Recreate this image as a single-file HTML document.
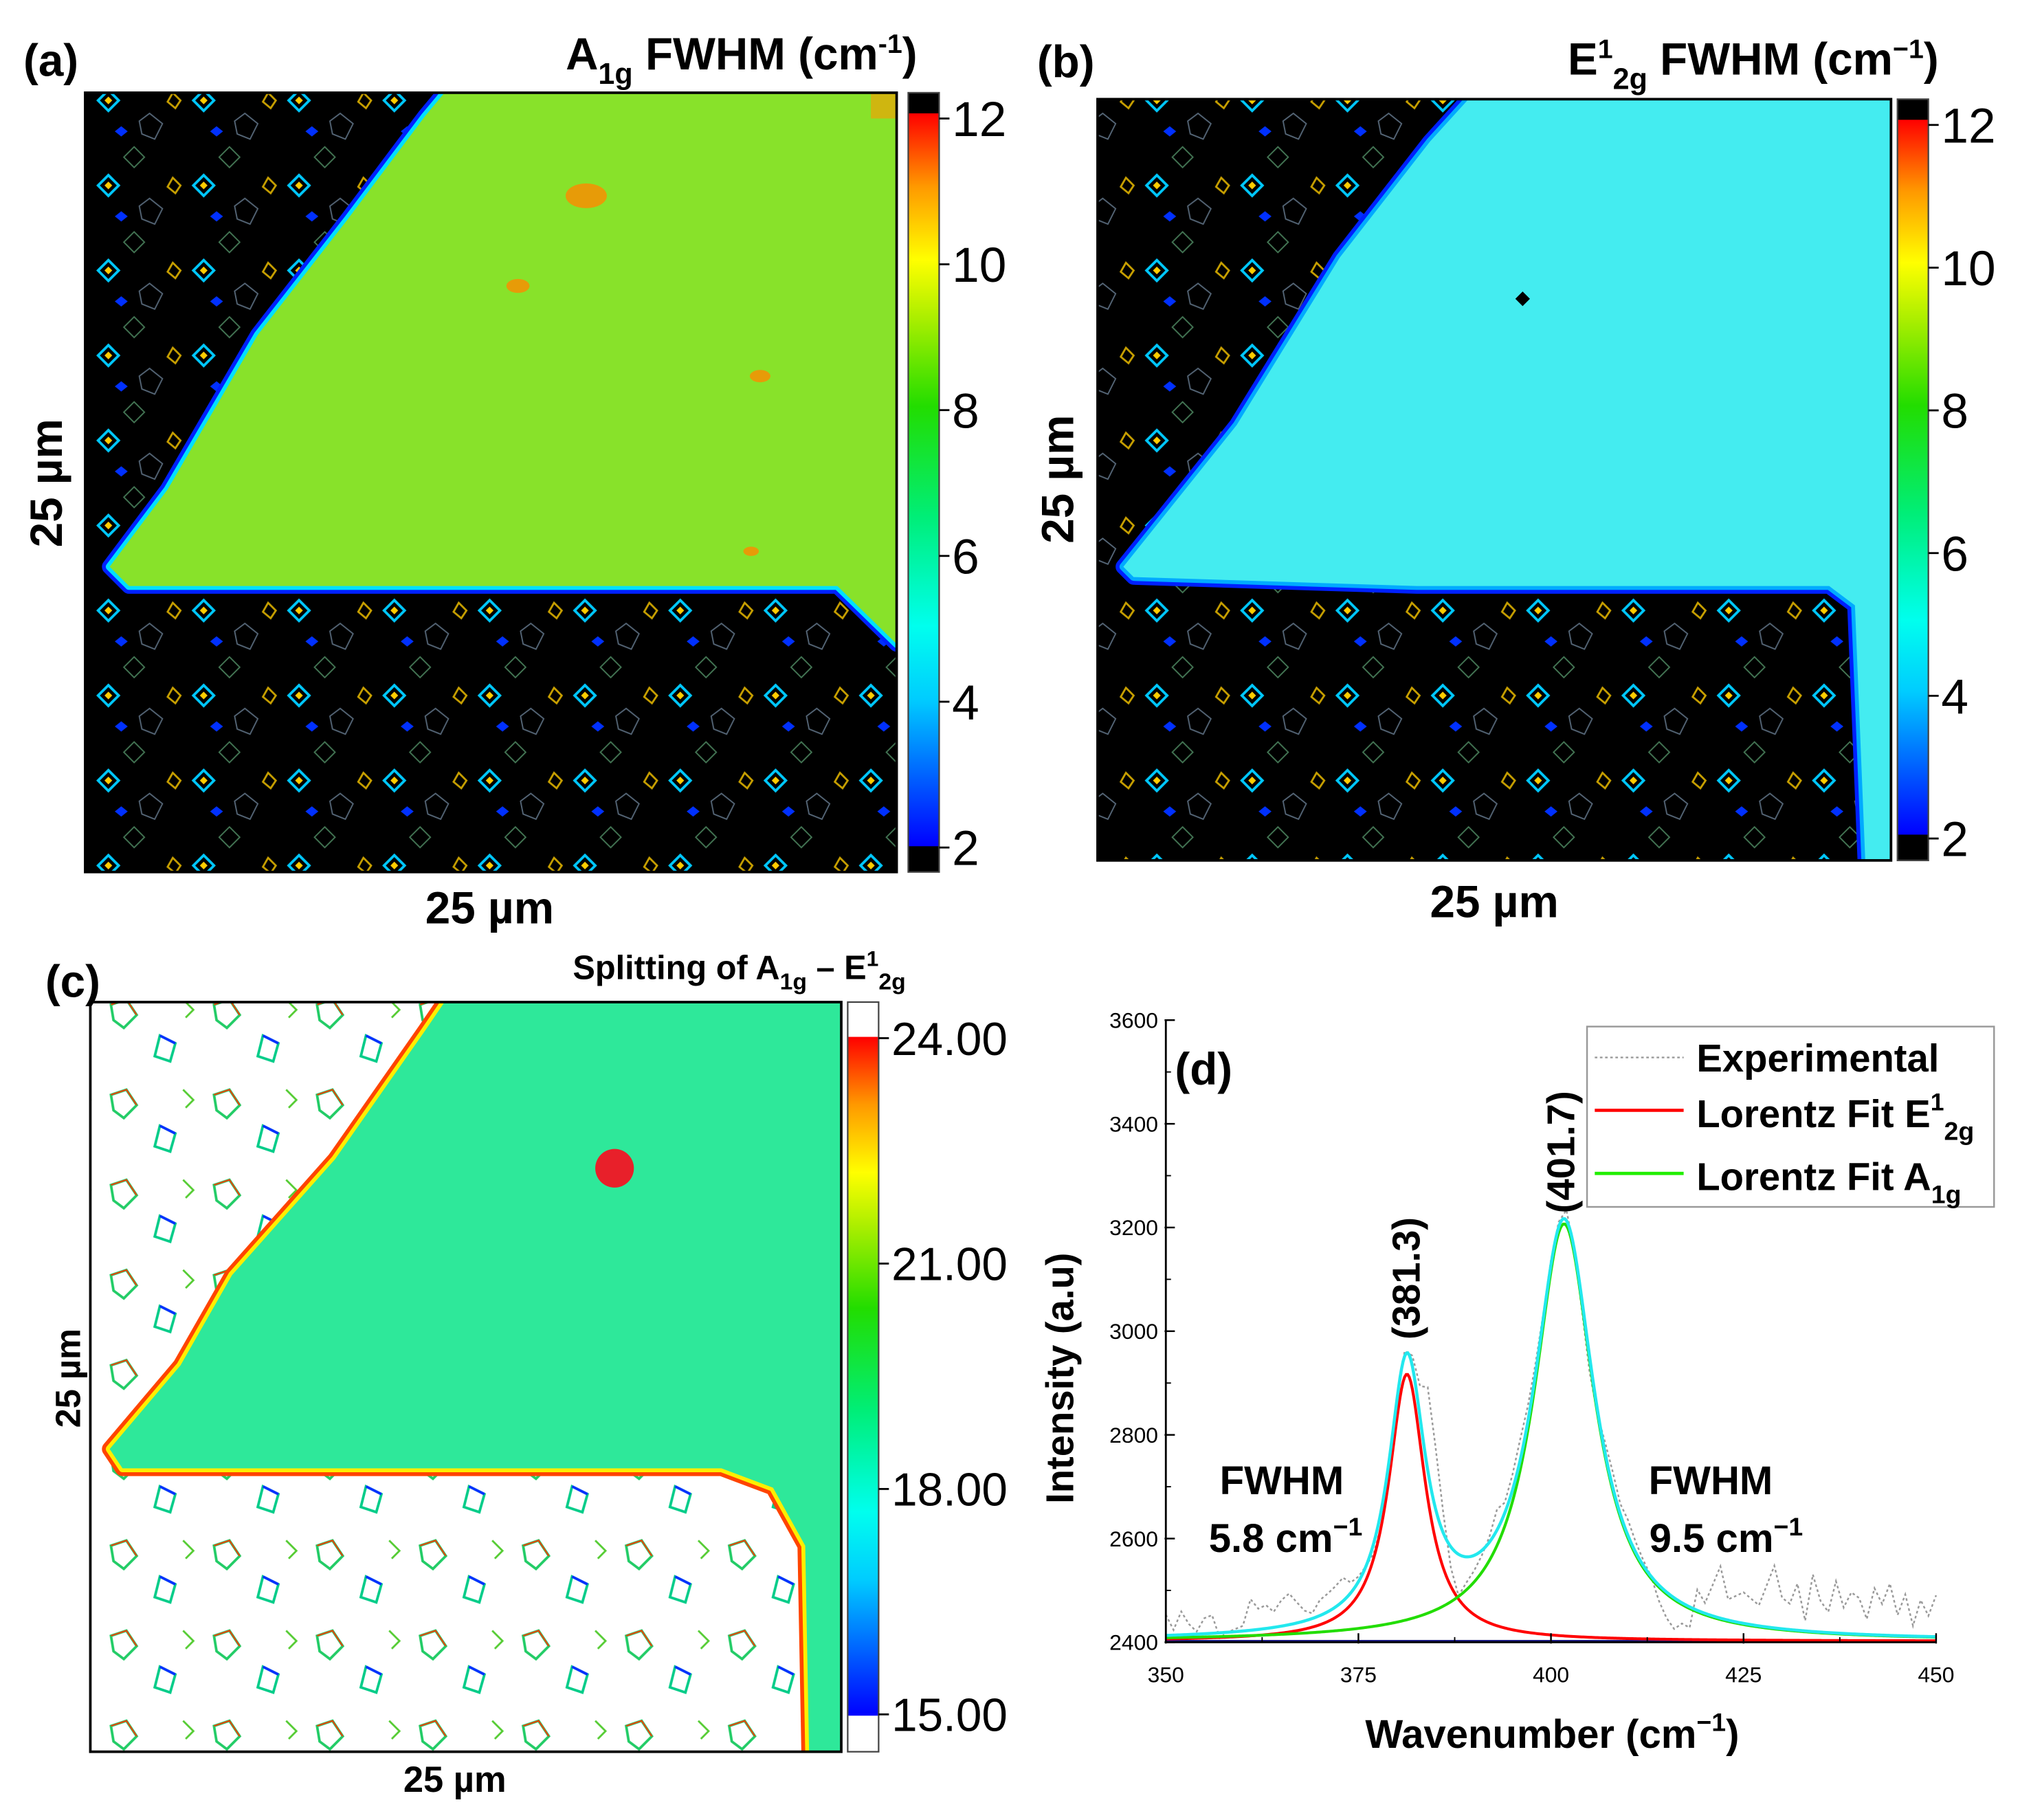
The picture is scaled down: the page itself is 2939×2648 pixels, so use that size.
<!DOCTYPE html>
<html><head><meta charset="utf-8"><style>
html,body{margin:0;padding:0;background:#fff;}
svg{display:block;font-family:"Liberation Sans",Arial,sans-serif;}
</style></head><body>
<svg id="fig" width="2939" height="2648" viewBox="0 0 1568 1413" xmlns="http://www.w3.org/2000/svg">
<defs>
<linearGradient id="jet" x1="0" y1="1" x2="0" y2="0">
<stop offset="0" stop-color="#0000ff"/><stop offset="0.2" stop-color="#00ccff"/><stop offset="0.3" stop-color="#00ffee"/>
<stop offset="0.45" stop-color="#00ee77"/><stop offset="0.6" stop-color="#22dd00"/><stop offset="0.72" stop-color="#aaee00"/>
<stop offset="0.8" stop-color="#ffff00"/><stop offset="0.9" stop-color="#ff9900"/><stop offset="1" stop-color="#ff0000"/>
</linearGradient>
<pattern id="darkTex" width="74" height="66" patternUnits="userSpaceOnUse">
<rect width="74" height="66" fill="#000"/>
<path d="M10 4 L18 12 L10 20 L2 12Z" fill="none" stroke="#00c8ff" stroke-width="2"/>
<path d="M10 9 L13 12 L10 15 L7 12Z" fill="#ffcc00"/>
<path d="M42 22 L52 30 L46 42 L36 38 L34 28Z" fill="none" stroke="#567" stroke-width="1"/>
<path d="M30 48 L38 56 L30 64 L22 56Z" fill="none" stroke="#475" stroke-width="1"/>
<path d="M60 6 L66 12 L62 18 L56 13Z" fill="none" stroke="#c8a000" stroke-width="1.5"/>
<path d="M20 32 L25 36 L20 40 L15 36Z" fill="#0030ff"/>
</pattern>
<pattern id="lightTex" width="80" height="70" patternUnits="userSpaceOnUse">
<rect width="80" height="70" fill="#fff"/>
<path d="M6 10 L18 6 L26 18 L16 28 L8 22Z" fill="none" stroke="#22cc66" stroke-width="2"/>
<path d="M6 10 L18 6 L26 18" fill="none" stroke="#ff3300" stroke-width="1"/>
<path d="M44 34 L56 40 L52 54 L40 50Z" fill="none" stroke="#00cc88" stroke-width="2"/>
<path d="M44 34 L56 40" fill="none" stroke="#0030ff" stroke-width="2"/>
<path d="M62 6 L70 14 L64 20" fill="none" stroke="#55cc33" stroke-width="1.5"/>
</pattern>
</defs>
</svg>
<script>
// ---------- panel (d) data ----------
const xTicks = [350, 375, 400, 425, 450];
const yTicks = [2400, 2600, 2800, 3000, 3200, 3400, 3600];
const baseline = 2402;
const peakE = [381.3, 515, 5.8];   // center, amplitude, FWHM
const peakA = [401.7, 805, 9.5];
const residuals = [40,10,45,20,5,30,35,-10,0,5, 10,60,40,45,30,50,60,40,20,10,
 30,35,40,45,20,10,0,-20,-30,-20, -10,10,20,60,160,120,40,-40,-80,-50,
 -30,-10,10,40,20,30,40,30,20,10, 10,10,20,0,-20,-30,-10,20,30,20,
 30,20,10,0,-30,-50,-60,-40,-40,40, 20,60,100,40,50,60,50,40,80,120,
 60,50,90,20,110,60,40,100,50,80, 70,30,90,60,100,40,80,20,70,40,80];
// colorbar ticks
const cbTicksAB = [2, 4, 6, 8, 10, 12];
const cbTicksC = ["15.00", "18.00", "21.00", "24.00"];

const svg = document.getElementById('fig');
const NS = 'http://www.w3.org/2000/svg';
function mk(tag, attrs, parent, text) {
  const e = document.createElementNS(NS, tag);
  for (const k in attrs) e.setAttribute(k, attrs[k]);
  if (text !== undefined) e.textContent = text;
  (parent || svg).appendChild(e);
  return e;
}
function txt(x, y, s, size, weight, anchor, parent) {
  return mk('text', {x: x, y: y, 'font-size': size, 'font-weight': weight || 'normal', 'text-anchor': anchor || 'start', fill: '#000'}, parent, s);
}

function heatmap(name, x0, y0, x1, y1, bgFill, flakeFill, flake, edgeOuter, edgeInner) {
  const g = mk('g', {}, svg);
  
  
  const cid = name + '-clip';
  const cp = mk('clipPath', {id: cid}, g);
  mk('rect', {x: x0, y: y0, width: x1 - x0, height: y1 - y0}, cp);
  const inner = mk('g', {'clip-path': 'url(#' + cid + ')'}, g);
  mk('rect', {x: x0, y: y0, width: x1 - x0, height: y1 - y0, fill: bgFill}, inner);
  const pts = flake.map(p => p.join(',')).join(' ');
  mk('polygon', {points: pts, fill: 'none', stroke: edgeOuter, 'stroke-width': 12, 'stroke-linejoin': 'round'}, inner);
  mk('polygon', {points: pts, fill: 'none', stroke: edgeInner, 'stroke-width': 6, 'stroke-linejoin': 'round'}, inner);
  mk('polygon', {points: pts, fill: flakeFill}, inner);
  mk('rect', {x: x0, y: y0, width: x1 - x0, height: y1 - y0, fill: 'none', stroke: '#000', 'stroke-width': 2}, g);
  return inner;
}
function colorbar(name, x, y0, y1, endColor, capTop, capBot, ticks, tickY, size) {
  const g = mk('g', {}, svg);
  
  
  mk('rect', {x: x, y: y0, width: 24, height: y1 - y0, fill: endColor}, g);
  mk('rect', {x: x, y: y0 + capTop, width: 24, height: y1 - y0 - capTop - capBot, fill: 'url(#jet)'}, g);
  mk('rect', {x: x, y: y0, width: 24, height: y1 - y0, fill: 'none', stroke: '#444', 'stroke-width': 1.2}, g);
  ticks.forEach((t, i) => {
    const yy = tickY(i);
    mk('line', {x1: x + 24, x2: x + 32, y1: yy, y2: yy, stroke: '#000', 'stroke-width': 1.5}, g);
    txt(x + 34, yy + size * 0.36, String(t), size, 'normal', 'start', g);
  });
}

// (a)
const ia = heatmap('map-a1g-fwhm', 66, 72, 696, 677, 'url(#darkTex)', '#88e22a',
  [[345,72],[696,72],[696,500],[650,455],[300,455],[100,455],[85,440],[130,380],[200,260],[270,170],[330,90]], '#0020ff', '#00e0ff');
[[455,152,16],[402,222,9],[590,292,8],[583,428,6]].forEach(s => { mk('ellipse', {cx: s[0], cy: s[1], rx: s[2], ry: s[2]*0.6, fill: '#ff8a00', opacity: 0.8}, ia); });
mk('rect', {x: 676, y: 72, width: 20, height: 20, fill: '#ff9a00', opacity: 0.6}, ia);
colorbar('colorbar-a', 705, 72, 677, '#000', 16, 20, cbTicksAB, i => 658 - i * 113.2, 38);
txt(18, 59, '(a)', 35, 'bold');
const ta = txt(712, 54, '', 35, 'bold', 'end');

ta.innerHTML = 'A<tspan font-size="23" dy="11">1g</tspan><tspan dy="-11"> FWHM (cm</tspan><tspan font-size="21" dy="-13">-1</tspan><tspan dy="13">)</tspan>';
mk('text', {x: 0, y: 0, transform: 'translate(48,375) rotate(-90)', 'font-size': 35, 'font-weight': 'bold', 'text-anchor': 'middle'}, svg, '25 µm');
txt(380, 717, '25 µm', 35, 'bold', 'middle');

// (b)
const ib = heatmap('map-e2g-fwhm', 852, 77, 1468, 668, 'url(#darkTex)', '#44ecf0',
  [[1140,77],[1468,77],[1468,668],[1448,668],[1440,470],[1420,455],[1100,455],[880,448],[872,440],[960,330],[1040,200],[1110,110]], '#0020ff', '#00aaff');
mk('rect', {x: 1178, y: 228, width: 8, height: 8, fill: '#000', transform: 'rotate(45 1182 232)'}, ib);
colorbar('colorbar-b', 1473, 77, 668, '#000', 16, 20, cbTicksAB, i => 651 - i * 110.8, 38);
txt(805, 60, '(b)', 35, 'bold');
const tb = txt(1505, 58, '', 35, 'bold', 'end');

tb.innerHTML = 'E<tspan font-size="21" dy="-13">1</tspan><tspan font-size="23" dy="24">2g</tspan><tspan dy="-11"> FWHM (cm</tspan><tspan font-size="21" dy="-13">−1</tspan><tspan dy="13">)</tspan>';
mk('text', {x: 0, y: 0, transform: 'translate(833,372) rotate(-90)', 'font-size': 35, 'font-weight': 'bold', 'text-anchor': 'middle'}, svg, '25 µm');
txt(1160, 712, '25 µm', 35, 'bold', 'middle');

// (c)
const ic = heatmap('map-splitting', 70, 778, 653, 1360, 'url(#lightTex)', '#2ee89a',
  [[345,778],[653,778],[653,1360],[628,1360],[625,1200],[600,1155],[560,1140],[300,1140],[95,1140],[85,1125],[140,1060],[180,990],[260,900],[330,800]], '#ff4400', '#ffee00');
const dot = mk('circle', {cx: 477, cy: 907, r: 15, fill: '#e8202a'}, svg);


colorbar('colorbar-c', 658, 778, 1360, '#fff', 27, 28, cbTicksC, i => 1331 - i * 175, 36);
txt(35, 774, '(c)', 35, 'bold');
const tc = txt(703, 760, '', 26, 'bold', 'end');

tc.innerHTML = 'Splitting of A<tspan font-size="18" dy="8">1g</tspan><tspan dy="-8"> – E</tspan><tspan font-size="17" dy="-10">1</tspan><tspan font-size="18" dy="18">2g</tspan>';
mk('text', {x: 0, y: 0, transform: 'translate(62,1070) rotate(-90)', 'font-size': 27, 'font-weight': 'bold', 'text-anchor': 'middle'}, svg, '25 µm');
txt(353, 1391, '25 µm', 28, 'bold', 'middle');

// (d) spectrum
const AX0 = 905, AX1 = 1503, AY0 = 792, AY1 = 1275;
const xs = v => AX0 + (v - 350) / 100 * (AX1 - AX0);
const ys = v => AY1 - (v - 2400) / 1200 * (AY1 - AY0);
const lor = (p, x) => p[1] * (p[2] / 2) * (p[2] / 2) / ((x - p[0]) * (x - p[0]) + (p[2] / 2) * (p[2] / 2));
const gd = mk('g', {}, svg);


function line(vals, step, color, w, dash, name) {
  let d = '';
  vals.forEach((v, i) => { d += (i ? 'L' : 'M') + xs(350 + i * step).toFixed(2) + ' ' + ys(v).toFixed(2); });
  const p = mk('path', {d: d, fill: 'none', stroke: color, 'stroke-width': w}, gd);
  if (dash) p.setAttribute('stroke-dasharray', dash);
  
  
}
const N = 501, st = 0.2;
const eVals = [], aVals = [], sVals = [], bVals = [];
for (let i = 0; i < N; i++) {
  const x = 350 + i * st;
  eVals.push(baseline + lor(peakE, x));
  aVals.push(baseline + lor(peakA, x));
  sVals.push(baseline + lor(peakE, x) + lor(peakA, x));
  bVals.push(baseline);
}
const expVals = residuals.map((r, i) => baseline + lor(peakE, 350 + i) + lor(peakA, 350 + i) + r);
line(expVals, 1, '#999', 1.3, '2,2', 'experimental-line');
line(bVals, st, '#1a1a80', 2, null, 'baseline-line');
line(eVals, st, '#ff0000', 2.2, null, 'lorentz-e2g-line');
line(aVals, st, '#22dd00', 2.2, null, 'lorentz-a1g-line');
line(sVals, st, '#22e8ee', 2.4, null, 'cumulative-fit-line');
mk('line', {x1: AX0, x2: AX0, y1: AY0, y2: AY1, stroke: '#000', 'stroke-width': 1.5}, gd);
mk('line', {x1: AX0, x2: AX1, y1: AY1, y2: AY1, stroke: '#000', 'stroke-width': 1.5}, gd);
yTicks.forEach((t, i) => {
  mk('line', {x1: AX0 - 1, x2: AX0 + 7, y1: ys(t), y2: ys(t), stroke: '#000', 'stroke-width': 1.3}, gd);
  if (i < yTicks.length - 1) mk('line', {x1: AX0, x2: AX0 + 4, y1: ys(t + 100), y2: ys(t + 100), stroke: '#000', 'stroke-width': 1}, gd);
  txt(AX0 - 6, ys(t) + 6, String(t), 17, 'normal', 'end', gd);
});
xTicks.forEach((t, i) => {
  mk('line', {x1: xs(t), x2: xs(t), y1: AY1 + 1, y2: AY1 - 7, stroke: '#000', 'stroke-width': 1.3}, gd);
  if (i < xTicks.length - 1) mk('line', {x1: xs(t + 12.5), x2: xs(t + 12.5), y1: AY1, y2: AY1 - 4, stroke: '#000', 'stroke-width': 1}, gd);
  txt(xs(t), AY1 + 31, String(t), 17, 'normal', 'middle', gd);
});
const xl = txt(1205, 1357, '', 31, 'bold', 'middle', gd);

xl.innerHTML = 'Wavenumber (cm<tspan font-size="20" dy="-13">−1</tspan><tspan dy="13">)</tspan>';
const yl = mk('text', {x: 0, y: 0, transform: 'translate(833,1070) rotate(-90)', 'font-size': 30, 'font-weight': 'bold', 'text-anchor': 'middle'}, gd, 'Intensity (a.u)');

txt(912, 842, '(d)', 35, 'bold', 'start', gd);
mk('text', {x: 0, y: 0, transform: 'translate(1102,1040) rotate(-90)', 'font-size': 30, 'font-weight': 'bold'}, gd, '(381.3)');
mk('text', {x: 0, y: 0, transform: 'translate(1222,942) rotate(-90)', 'font-size': 30, 'font-weight': 'bold'}, gd, '(401.7)');
txt(995, 1160, 'FWHM', 31, 'bold', 'middle', gd);
const f1 = txt(998, 1205, '', 31, 'bold', 'middle', gd);
f1.innerHTML = '5.8 cm<tspan font-size="20" dy="-13">−1</tspan>';
txt(1328, 1160, 'FWHM', 31, 'bold', 'middle', gd);
const f2 = txt(1340, 1205, '', 31, 'bold', 'middle', gd);
f2.innerHTML = '9.5 cm<tspan font-size="20" dy="-13">−1</tspan>';
// legend
const lg = mk('g', {}, gd);


mk('rect', {x: 1232, y: 797, width: 316, height: 140, fill: '#fff', stroke: '#999', 'stroke-width': 1.3}, lg);
mk('line', {x1: 1238, x2: 1307, y1: 821, y2: 821, stroke: '#999', 'stroke-width': 1.3, 'stroke-dasharray': '2,2'}, lg);
mk('line', {x1: 1238, x2: 1307, y1: 862, y2: 862, stroke: '#ff0000', 'stroke-width': 2.5}, lg);
mk('line', {x1: 1238, x2: 1307, y1: 911, y2: 911, stroke: '#22ee00', 'stroke-width': 2.5}, lg);
txt(1317, 832, 'Experimental', 30, 'bold', 'start', lg);
const l2 = txt(1317, 875, '', 30, 'bold', 'start', lg);
l2.innerHTML = 'Lorentz Fit E<tspan font-size="19" dy="-13">1</tspan><tspan font-size="20" dy="23">2g</tspan>';
const l3 = txt(1317, 924, '', 30, 'bold', 'start', lg);
l3.innerHTML = 'Lorentz Fit A<tspan font-size="20" dy="10">1g</tspan>';
</script>
</body></html>
